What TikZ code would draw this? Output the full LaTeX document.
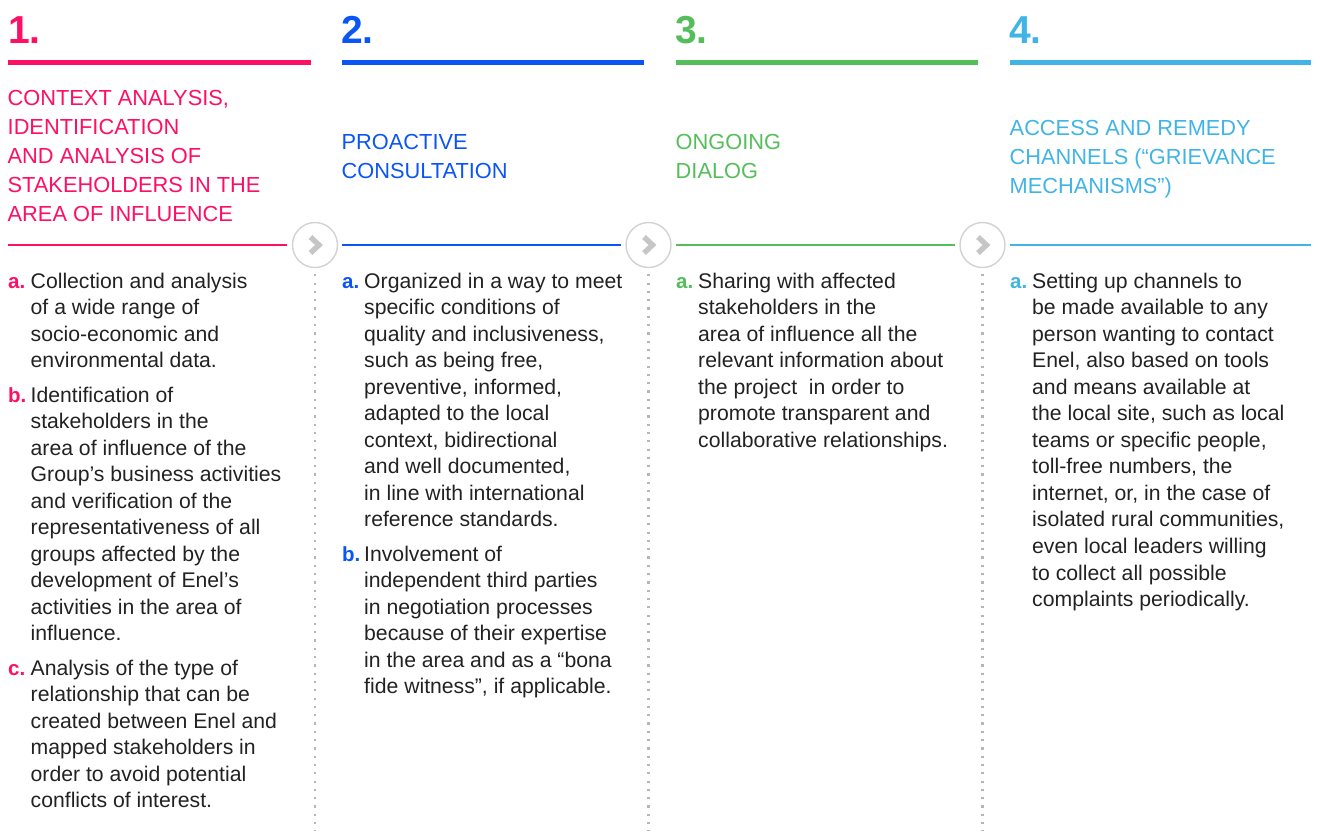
\documentclass[tikz,border=0pt]{standalone}
\usepackage{fontspec}
\setmainfont{Liberation Sans}
\definecolor{cpink}{HTML}{FF0F64}
\definecolor{cblue}{HTML}{0B55F5}
\definecolor{cgreen}{HTML}{55BE5A}
\definecolor{ccyan}{HTML}{41B4E6}
\definecolor{ink}{HTML}{222222}
\definecolor{ring}{HTML}{D2D2D2}
\definecolor{chevgray}{HTML}{C6C6C6}
\definecolor{dotgray}{HTML}{B5B5B5}
% stack of lines whose baseline is the first line
\newcommand\linestack[1]{\vtop{\halign{##\hfil\cr#1\crcr}}}
\begin{document}
\begin{tikzpicture}[x=1pt,y=-1pt,
  numtext/.style={anchor=base west,inner sep=0,font=\fontsize{39}{39}\selectfont\bfseries},
  toprule/.style={line width=4.6pt},
  headtext/.style={anchor=base west,inner sep=0,font=\fontsize{21.8}{29}\selectfont},
  sepline/.style={line width=1.1pt},
  itemlabel/.style={anchor=base west,inner sep=0,font=\fontsize{20.5}{26.55}\selectfont\bfseries},
  itemtext/.style={anchor=base west,inner sep=0,font=\fontsize{21.2}{26.55}\selectfont,text=ink},
  stepcirc/.style={circle,draw=ring,line width=1.4pt,minimum size=45pt,inner sep=0},
  chev/.style={draw=chevgray,line width=5.4pt,miter limit=10},
  dotline/.style={draw=dotgray,line width=2.2pt,dash pattern=on 2.2pt off 6.1pt},
]
\useasboundingbox (0,0) rectangle (1320,831);

% ---- step numbers and top rules
\node[numtext,text=cpink]  (n1) at (8,43)    {1.};
\node[numtext,text=cblue]  (n2) at (341,43)  {2.};
\node[numtext,text=cgreen] (n3) at (675,43)  {3.};
\node[numtext,text=ccyan]  (n4) at (1009,43) {4.};

\coordinate (r1a) at (8,62.5);    \coordinate (r1b) at (311,62.5);
\coordinate (r2a) at (342,62.5);  \coordinate (r2b) at (644,62.5);
\coordinate (r3a) at (676,62.5);  \coordinate (r3b) at (978,62.5);
\coordinate (r4a) at (1010,62.5); \coordinate (r4b) at (1311,62.5);
\draw[toprule,cpink]  (r1a) -- (r1b);
\draw[toprule,cblue]  (r2a) -- (r2b);
\draw[toprule,cgreen] (r3a) -- (r3b);
\draw[toprule,ccyan]  (r4a) -- (r4b);

% ---- headings
\node[headtext,text=cpink] (h1) at (7.5,105)
  {\linestack{CONTEXT ANALYSIS,\cr IDENTIFICATION\cr AND ANALYSIS OF\cr STAKEHOLDERS IN THE\cr AREA OF INFLUENCE}};
\node[headtext,text=cblue] (h2) at (341.5,149)
  {\linestack{PROACTIVE\cr CONSULTATION}};
\node[headtext,text=cgreen] (h3) at (675.5,149)
  {\linestack{ONGOING\cr DIALOG}};
\node[headtext,text=ccyan] (h4) at (1009.5,135)
  {\linestack{ACCESS AND REMEDY\cr CHANNELS (“GRIEVANCE\cr MECHANISMS”)}};

% ---- step circles with chevrons
\node[stepcirc] (c1) at (315,245) {};
\node[stepcirc] (c2) at (648.5,245) {};
\node[stepcirc] (c3) at (982.5,245) {};
\foreach \c in {c1,c2,c3}{
  \draw[chev] ([shift={(-4.5,-8)}]\c.center) -- ([shift={(4,0)}]\c.center) -- ([shift={(-4.5,8)}]\c.center);
}

% ---- separator lines
\coordinate (s1) at (8,245);
\coordinate (s2) at (342,245);
\coordinate (s3) at (676,245);
\coordinate (s4) at (1010,245);
\coordinate (s5) at (1311,245);
\draw[sepline,cpink,shorten >=5pt]  (s1) -- (c1.west);
\draw[sepline,cblue,shorten >=4pt]  (s2) -- (c2.west);
\draw[sepline,cgreen,shorten >=4pt] (s3) -- (c3.west);
\draw[sepline,ccyan]                (s4) -- (s5);

% ---- dotted column dividers
\coordinate (d1) at (315,831);
\coordinate (d2) at (648.5,831);
\coordinate (d3) at (982.5,831);
\draw[dotline,shorten <=6pt] (c1.south) -- (d1);
\draw[dotline,shorten <=6pt] (c2.south) -- (d2);
\draw[dotline,shorten <=6pt] (c3.south) -- (d3);

% ---- column 1 items
\node[itemlabel,text=cpink] (l1a) at (8,288) {a.};
\node[itemtext] (t1a) at (30.5,288)
  {\linestack{Collection and analysis\cr of a wide range of\cr socio-economic and\cr environmental data.}};
\node[itemlabel,text=cpink] (l1b) at (8,402) {b.};
\node[itemtext] (t1b) at (30.5,402)
  {\linestack{Identification of\cr stakeholders in the\cr area of influence of the\cr Group’s business activities\cr and verification of the\cr representativeness of all\cr groups affected by the\cr development of Enel’s\cr activities in the area of\cr influence.}};
\node[itemlabel,text=cpink] (l1c) at (8,675) {c.};
\node[itemtext] (t1c) at (30.5,675)
  {\linestack{Analysis of the type of\cr relationship that can be\cr created between Enel and\cr mapped stakeholders in\cr order to avoid potential\cr conflicts of interest.}};

% ---- column 2 items
\node[itemlabel,text=cblue] (l2a) at (342,288) {a.};
\node[itemtext] (t2a) at (364,288)
  {\linestack{Organized in a way to meet\cr specific conditions of\cr quality and inclusiveness,\cr such as being free,\cr preventive, informed,\cr adapted to the local\cr context, bidirectional\cr and well documented,\cr in line with international\cr reference standards.}};
\node[itemlabel,text=cblue] (l2b) at (342,561) {b.};
\node[itemtext] (t2b) at (364,561)
  {\linestack{Involvement of\cr independent third parties\cr in negotiation processes\cr because of their expertise\cr in the area and as a “bona\cr fide witness”, if applicable.}};

% ---- column 3 items
\node[itemlabel,text=cgreen] (l3a) at (676,288) {a.};
\node[itemtext] (t3a) at (698,288)
  {\linestack{Sharing with affected\cr stakeholders in the\cr area of influence all the\cr relevant information about\cr the project\ \ in order to\cr promote transparent and\cr collaborative relationships.}};

% ---- column 4 items
\node[itemlabel,text=ccyan] (l4a) at (1010,288) {a.};
\node[itemtext] (t4a) at (1032,288)
  {\linestack{Setting up channels to\cr be made available to any\cr person wanting to contact\cr Enel, also based on tools\cr and means available at\cr the local site, such as local\cr teams or specific people,\cr toll-free numbers, the\cr internet, or, in the case of\cr isolated rural communities,\cr even local leaders willing\cr to collect all possible\cr complaints periodically.}};
\end{tikzpicture}
\end{document}
